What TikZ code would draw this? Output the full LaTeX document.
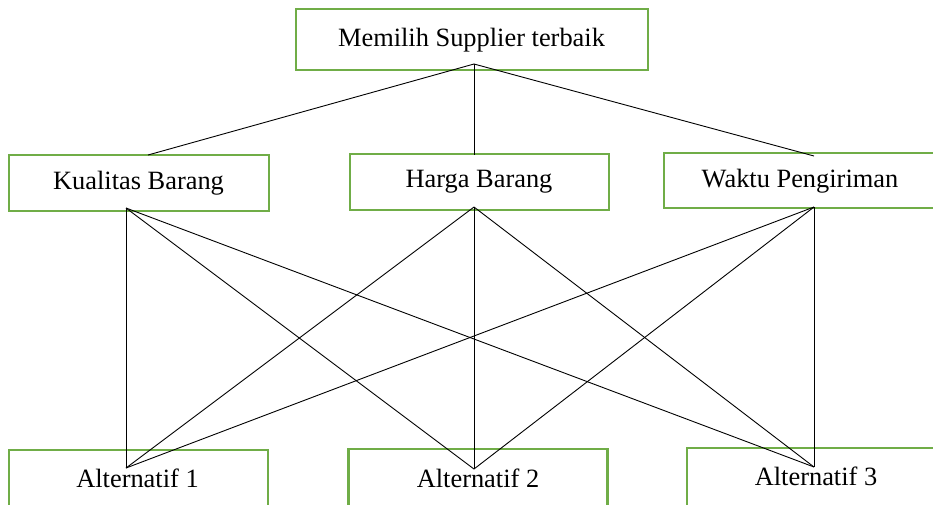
\documentclass[tikz,border=0pt]{standalone}
\usepackage{fontspec}
\setmainfont{Liberation Serif}
\definecolor{boxgreen}{RGB}{112,173,71}
\begin{document}
\begin{tikzpicture}[x=1pt,y=-1pt,
  gbox/.style={draw=boxgreen, line width=2.6pt, inner sep=0pt, fill=white},
  lbl/.style={inner sep=0pt, font=\fontsize{26.4}{30}\selectfont},
  conn/.style={draw=black, line width=0.9pt}]
\path[use as bounding box, fill=white] (0,0) rectangle (933,504);
% boxes
\node[gbox, minimum width=352, minimum height=61] (top) at (472,39.5) {};
\node[gbox, minimum width=260, minimum height=56] (kb) at (139,183) {};
\node[gbox, minimum width=259, minimum height=56] (hb) at (479.5,182) {};
\node[gbox, minimum width=272, minimum height=55] (wp) at (800,180.5) {};
\node[gbox, minimum width=259, minimum height=64] (a1) at (138.5,482) {};
\node[gbox, minimum width=259, minimum height=64] (a2) at (478,481) {};
\node[gbox, minimum width=250, minimum height=64] (a3) at (812,480) {};
% connection points
\coordinate (tb) at (474,64);
\coordinate (kt) at (148,155);
\coordinate (ht) at (474,155);
\coordinate (wt) at (814,156);
\coordinate (kbot) at (126,208);
\coordinate (hbot) at (474,207);
\coordinate (wbot) at (814,207);
\coordinate (p1) at (126,468);
\coordinate (p2) at (474,469);
\coordinate (p3) at (814,467);
% connectors
\draw[conn] (tb) -- (kt);
\draw[conn] (tb) -- (ht);
\draw[conn] (tb) -- (wt);
\foreach \s in {kbot,hbot,wbot}{
  \foreach \t in {p1,p2,p3}{
    \draw[conn] (\s) -- (\t);
  }
}
% labels
\node[lbl] (toptxt) at (471.5,40) {Memilih Supplier terbaik};
\node[lbl] (kbtxt) at (138.5,183) {Kualitas Barang};
\node[lbl] (hbtxt) at (479,182) {Harga Barang};
\node[lbl] (wptxt) at (800,181) {Waktu Pengiriman};
\node[lbl] (a1txt) at (137.5,478) {Alternatif 1};
\node[lbl] (a2txt) at (478,478) {Alternatif 2};
\node[lbl] (a3txt) at (816,476) {Alternatif 3};
\end{tikzpicture}
\end{document}
